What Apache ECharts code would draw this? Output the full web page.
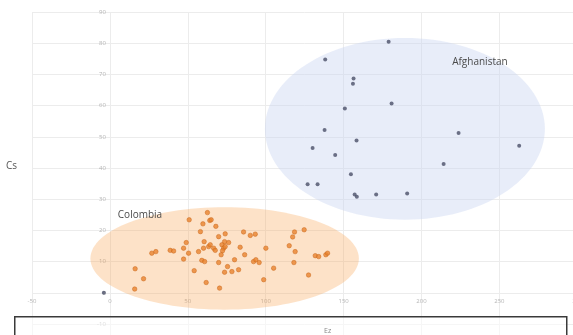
<!DOCTYPE html>
<html>
<head>
<meta charset="utf-8">
<script src="https://cdn.jsdelivr.net/npm/echarts@6/dist/echarts.min.js"></script>
<style>
  html, body { margin: 0; padding: 0; background: #ffffff; overflow: hidden; }
  #chart { width: 600px; height: 380px; }
</style>
</head>
<body>
<div id="chart"></div>
<script>
// Cluster members
const afghanistanX = [178.9, 138.2, 156.4, 156.0, 180.8, 150.8, 137.8, 158.3, 130.1, 144.6,
  154.7, 126.9, 133.3, 157.1, 158.5, 170.9, 190.8, 223.8, 262.7, 214.2, -3.9];
const afghanistanY = [80.5, 74.8, 68.7, 67.0, 60.7, 59.1, 52.2, 48.8, 46.4, 44.2,
  38.0, 34.8, 34.8, 31.5, 30.8, 31.5, 31.8, 51.2, 47.1, 41.3, 0.0];

const colombiaX = [26.9, 29.5, 38.7, 40.9, 47.3, 50.9, 49.0, 16.2, 21.6, 15.9,
  56.9, 59.7, 58.1, 47.3, 54.1, 59.0, 60.8, 61.8, 62.6, 60.1,
  63.4, 60.5, 64.1, 65.0, 68.0, 69.8, 74.0, 73.6, 71.9, 64.4,
  66.6, 67.6, 73.0, 74.0, 76.2, 72.3, 71.4, 50.5, 69.8, 80.0,
  75.5, 73.6, 78.3, 82.6, 70.4, 85.8, 90.1, 93.3, 83.6, 86.5,
  100.1, 92.2, 93.7, 95.8, 105.1, 98.7, 118.5, 117.3, 124.7, 115.1,
  118.9, 118.1, 127.5, 131.8, 134.0, 138.6, 139.7];
const colombiaY = [12.7, 13.2, 13.6, 13.4, 14.3, 23.4, 16.1, 7.7, 4.5, 1.2,
  13.2, 22.1, 19.6, 10.8, 7.1, 10.4, 10.0, 3.3, 25.7, 14.3,
  14.8, 16.4, 23.2, 23.4, 21.3, 18.0, 18.9, 16.4, 15.4, 15.4,
  14.3, 13.6, 14.3, 14.8, 16.1, 13.5, 12.2, 12.7, 9.7, 10.6,
  8.4, 6.6, 6.8, 7.4, 1.5, 19.5, 18.4, 18.8, 14.6, 12.2,
  14.3, 10.0, 10.6, 9.7, 7.9, 4.2, 19.5, 17.9, 20.2, 15.1,
  13.2, 9.7, 5.7, 11.9, 11.6, 12.2, 12.7];

// Highlight ellipses: bounding box [x0, y0, x1, y1] and label anchor, in data units
const clusterNames = ['Colombia', 'Afghanistan'];
const clusterBounds = [[-12.5, -5.4, 159.8, 27.4], [99.5, 23.4, 279.2, 81.7]];
const clusterLabelAt = [[19.3, 25.0], [237.5, 74.0]];

const xAxisRange = [-50, 300, 50];
const yAxisRange = [-20, 90, 10];

// pixel scale of one data unit on each axis
const X_PX = 1.558;
const Y_PX = 3.12;

const clusterFill = ['rgba(248,158,72,0.30)', 'rgba(200,212,240,0.42)'];
const FONT = '"Open Sans", "Noto Sans", sans-serif';
const GRID_LINE = '#ececec';

const zip = (xs, ys) => xs.map((x, i) => [x, ys[i]]);

const shapeData = clusterBounds.map((b, i) => ({
  value: [b[0], b[1], b[2], b[3], clusterLabelAt[i][0], clusterLabelAt[i][1]],
  name: clusterNames[i]
}));

const chart = echarts.init(document.getElementById('chart'), null, { renderer: 'canvas' });

chart.setOption({
  animation: false,
  backgroundColor: '#ffffff',
  grid: {
    left: 32,
    top: 12,
    width: (xAxisRange[1] - xAxisRange[0]) * X_PX,
    height: (yAxisRange[1] - yAxisRange[0]) * Y_PX,
    containLabel: false
  },
  xAxis: {
    type: 'value',
    position: 'bottom',
    // axis sits on the y = 0 line
    offset: -(0 - yAxisRange[0]) * Y_PX,
    min: xAxisRange[0], max: xAxisRange[1], interval: xAxisRange[2],
    axisLine: { show: false, onZero: false },
    axisTick: { show: false },
    splitLine: { lineStyle: { color: GRID_LINE, width: 1 } },
    axisLabel: { color: '#b5b5b5', fontSize: 6, fontFamily: FONT, margin: 5 }
  },
  yAxis: {
    type: 'value',
    position: 'left',
    // axis sits on the x = 0 line
    offset: -(0 - xAxisRange[0]) * X_PX,
    min: yAxisRange[0], max: yAxisRange[1], interval: yAxisRange[2],
    axisLine: { show: false, onZero: false },
    axisTick: { show: false },
    splitLine: { lineStyle: { color: GRID_LINE, width: 1 } },
    axisLabel: {
      color: '#b5b5b5', fontSize: 6, fontFamily: FONT, margin: 4,
      formatter: v => (v === yAxisRange[0] ? '' : String(v))
    }
  },
  series: [
    {
      type: 'custom',
      name: 'clusters',
      coordinateSystem: 'cartesian2d',
      clip: false,
      z: 1,
      data: shapeData,
      renderItem: (params, api) => {
        const p0 = api.coord([api.value(0), api.value(1)]);
        const p1 = api.coord([api.value(2), api.value(3)]);
        const lab = api.coord([api.value(4), api.value(5)]);
        const i = params.dataIndex;
        return {
          type: 'group',
          children: [
            {
              type: 'ellipse',
              shape: {
                cx: (p0[0] + p1[0]) / 2, cy: (p0[1] + p1[1]) / 2,
                rx: Math.abs(p1[0] - p0[0]) / 2, ry: Math.abs(p1[1] - p0[1]) / 2
              },
              style: { fill: clusterFill[i] }
            },
            {
              type: 'text',
              x: lab[0], y: lab[1],
              style: {
                text: clusterNames[i], fill: '#4a4a4a', fontSize: 10, fontFamily: FONT,
                align: 'center', verticalAlign: 'middle'
              }
            }
          ]
        };
      }
    },
    {
      type: 'scatter',
      name: 'Colombia',
      z: 3,
      symbolSize: 4.5,
      data: zip(colombiaX, colombiaY),
      itemStyle: { color: '#e8832e', borderColor: '#c9651a', borderWidth: 0.6 }
    },
    {
      type: 'scatter',
      name: 'Afghanistan',
      z: 3,
      symbolSize: 4,
      data: zip(afghanistanX, afghanistanY),
      itemStyle: { color: '#4a4f68' }
    }
  ],
  graphic: [
    {
      type: 'text', left: 6, top: 161, z: 10,
      style: { text: 'Cs', fill: '#555', fontSize: 10, fontFamily: FONT }
    },
    {
      type: 'rect', left: 14, top: 316, z: 10,
      shape: { width: 552, height: 30 },
      style: { fill: 'rgba(255,255,255,0.55)', stroke: '#3a3a3a', lineWidth: 1.5 }
    },
    {
      type: 'text', left: 324, top: 327, z: 11,
      style: { text: 'Ez', fill: '#888', fontSize: 7, fontFamily: FONT }
    }
  ]
});
</script>
</body>
</html>
